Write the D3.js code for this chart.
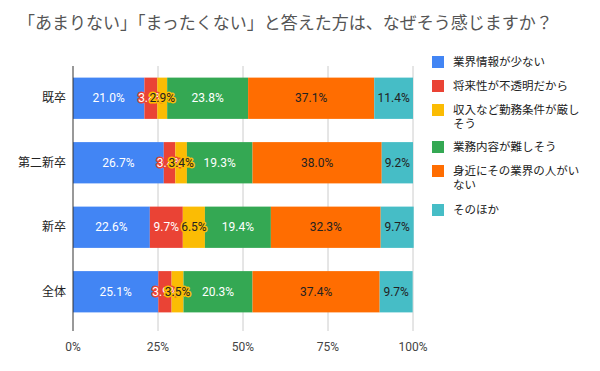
<!DOCTYPE html>
<html>
<head>
<meta charset="utf-8">
<script src="https://cdn.jsdelivr.net/npm/d3@7"></script>
<style>
body { margin: 0; background: #fff; }
text { font-family: Roboto, "Noto Sans CJK JP", sans-serif; }
.jp { font-family: "Noto Sans CJK JP", sans-serif; }
</style>
</head>
<body>
<div id="chart"></div>
<script>
var width = 600;
var height = 371;

var title = "「あまりない」「まったくない」と答えた方は、なぜそう感じますか？";
var categories = ["既卒", "第二新卒", "新卒", "全体"];
var seriesNames = ["業界情報が少ない", "将来性が不透明だから", "収入など勤務条件が厳しそう", "業務内容が難しそう", "身近にその業界の人がいない", "そのほか"];
var legendLines = [["業界情報が少ない"], ["将来性が不透明だから"], ["収入など勤務条件が厳し", "そう"], ["業務内容が難しそう"], ["身近にその業界の人がい", "ない"], ["そのほか"]];
var info = [21.0, 26.7, 22.6, 25.1];
var future = [3.8, 3.4, 9.7, 3.9];
var pay = [2.9, 3.4, 6.5, 3.5];
var hard = [23.8, 19.3, 19.4, 20.3];
var nobody = [37.1, 38.0, 32.3, 37.4];
var other = [11.4, 9.2, 9.7, 9.7];
var tickValues = [0, 25, 50, 75, 100];

var colors = ["#4285F4", "#EA4335", "#FBBC04", "#34A853", "#FF6D01", "#46BDC6"];
var labelColors = ["#fff", "#fff", "#222", "#fff", "#222", "#222"];
var series = [info, future, pay, hard, nobody, other];

var svg = d3.select("#chart").append("svg")
    .attr("width", width)
    .attr("height", height);

var x = d3.scaleLinear().domain([0, 100]).range([73, 413]);
var y = d3.scaleBand().domain(categories).range([66, 324]).paddingInner(0.36).paddingOuter(0.18);

svg.append("text")
    .attr("class", "jp")
    .attr("x", 18)
    .attr("y", 29)
    .attr("font-size", 17)
    .attr("fill", "#555")
    .text(title);

// grid
svg.append("g").selectAll("line")
    .data(tickValues.slice(1))
    .enter().append("line")
    .attr("x1", function (d) { return x(d); })
    .attr("x2", function (d) { return x(d); })
    .attr("y1", 66)
    .attr("y2", 331)
    .attr("stroke", "#ccc");

// stacked segments
var rows = categories.map(function (c, i) {
    var acc = 0;
    return series.map(function (s, k) {
        var seg = { cat: c, k: k, v: s[i], x0: acc, x1: acc + s[i] };
        acc += s[i];
        return seg;
    });
});
var segs = [].concat.apply([], rows);

svg.append("g").selectAll("rect")
    .data(segs)
    .enter().append("rect")
    .attr("x", function (d) { return x(d.x0); })
    .attr("y", function (d) { return y(d.cat); })
    .attr("width", function (d) { return x(d.x1) - x(d.x0); })
    .attr("height", y.bandwidth())
    .attr("fill", function (d) { return colors[d.k]; });

svg.append("g").selectAll("text")
    .data(segs)
    .enter().append("text")
    .attr("x", function (d) { return x((d.x0 + d.x1) / 2); })
    .attr("y", function (d) { return y(d.cat) + y.bandwidth() / 2 + 4; })
    .attr("text-anchor", "middle")
    .attr("font-size", 12)
    .attr("fill", function (d) { return labelColors[d.k]; })
    .attr("stroke", function (d) { return (x(d.x1) - x(d.x0)) < 30 ? colors[d.k] : "none"; })
    .attr("stroke-width", 3)
    .attr("paint-order", "stroke")
    .attr("stroke-linejoin", "round")
    .text(function (d) { return d.v.toFixed(1) + "%"; });

// baseline
svg.append("line")
    .attr("x1", x(0)).attr("x2", x(0))
    .attr("y1", 66).attr("y2", 331)
    .attr("stroke", "#333");

// category labels
svg.append("g").selectAll("text")
    .data(categories)
    .enter().append("text")
    .attr("class", "jp")
    .attr("x", 66)
    .attr("y", function (d) { return y(d) + y.bandwidth() / 2 + 4; })
    .attr("text-anchor", "end")
    .attr("font-size", 12)
    .attr("fill", "#222")
    .text(function (d) { return d; });

// tick labels
svg.append("g").selectAll("text")
    .data(tickValues)
    .enter().append("text")
    .attr("x", function (d) { return x(d); })
    .attr("y", 351)
    .attr("text-anchor", "middle")
    .attr("font-size", 12)
    .attr("fill", "#444")
    .text(function (d) { return d + "%"; });

// legend
var legendY = [62, 86, 110, 147, 171, 210];
var legend = svg.append("g").selectAll("g")
    .data(seriesNames)
    .enter().append("g")
    .attr("transform", function (d, i) { return "translate(432," + legendY[i] + ")"; });

legend.append("rect")
    .attr("x", 0).attr("y", -6)
    .attr("width", 12).attr("height", 12)
    .attr("fill", function (d, i) { return colors[i]; });

legend.append("text")
    .attr("class", "jp")
    .attr("font-size", 11.5)
    .attr("fill", "#222")
    .selectAll("tspan")
    .data(function (d, i) { return legendLines[i]; })
    .enter().append("tspan")
    .attr("x", 21)
    .attr("y", function (d, i) { return 4 + i * 14; })
    .text(function (d) { return d; });
</script>
</body>
</html>
